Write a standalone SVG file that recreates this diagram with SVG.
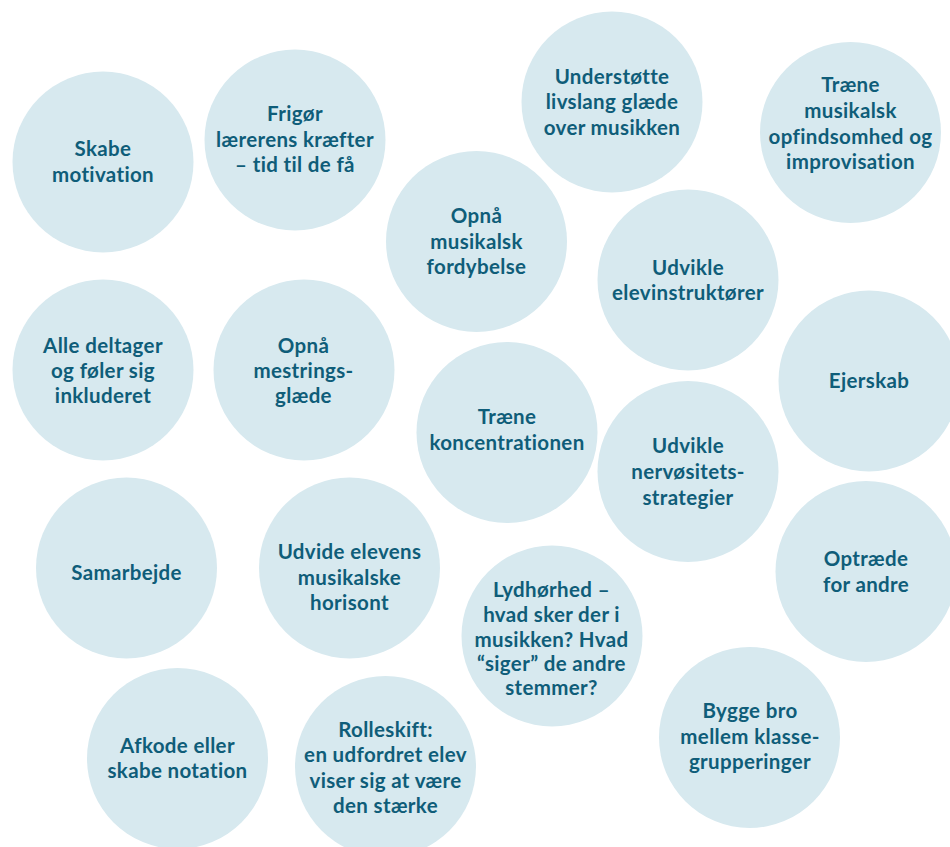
<svg xmlns="http://www.w3.org/2000/svg" width="950" height="847" viewBox="0 0 950 847">
<style>
.c{fill:#d7e9ef}
text{font-family:Lato,"Open Sans","Liberation Sans",sans-serif;font-weight:700;font-size:20.5px;letter-spacing:0.35px;fill:#0f5d79;text-anchor:middle}
</style>
<rect width="950" height="847" fill="#ffffff"/>
<g id="connectors"></g>
<g id="n1"><circle class="c" cx="103" cy="162" r="90.5"/><text x="103"><tspan x="103" y="156">Skabe</tspan><tspan x="103" y="182">motivation</tspan></text></g>
<g id="n2"><circle class="c" cx="295" cy="140" r="90.5"/><text><tspan x="295" y="121">Frigør</tspan><tspan x="295" y="146.7">lærerens kræfter</tspan><tspan x="295" y="171.7">– tid til de få</tspan></text></g>
<g id="n3"><circle class="c" cx="612" cy="102" r="90.5"/><text><tspan x="612" y="84">Understøtte</tspan><tspan x="612" y="109.3">livslang glæde</tspan><tspan x="612" y="135">over musikken</tspan></text></g>
<g id="n4"><circle class="c" cx="850.5" cy="132.5" r="90.5"/><text><tspan x="850.5" y="92.3">Træne</tspan><tspan x="850.5" y="118.3">musikalsk</tspan><tspan x="850.5" y="144">opfindsomhed og</tspan><tspan x="850.5" y="168.5">improvisation</tspan></text></g>
<g id="n5"><circle class="c" cx="476.5" cy="241.5" r="90.5"/><text><tspan x="476.5" y="223">Opnå</tspan><tspan x="476.5" y="248.5">musikalsk</tspan><tspan x="476.5" y="274">fordybelse</tspan></text></g>
<g id="n6"><circle class="c" cx="688" cy="280" r="90.5"/><text><tspan x="688" y="274.5">Udvikle</tspan><tspan x="688" y="300">elevinstruktører</tspan></text></g>
<g id="n7"><circle class="c" cx="103" cy="370" r="90.5"/><text><tspan x="103" y="352.7">Alle deltager</tspan><tspan x="103" y="378.3">og føler sig</tspan><tspan x="103" y="403.3">inkluderet</tspan></text></g>
<g id="n8"><circle class="c" cx="304" cy="370" r="90.5"/><text><tspan x="303.5" y="352.7">Opnå</tspan><tspan x="303.5" y="378.3">mestrings-</tspan><tspan x="303.5" y="403.3">glæde</tspan></text></g>
<g id="n9"><circle class="c" cx="869" cy="381" r="90.5"/><text x="869" y="388.3">Ejerskab</text></g>
<g id="n10"><circle class="c" cx="507" cy="432.5" r="90.5"/><text><tspan x="507" y="424">Træne</tspan><tspan x="507" y="450">koncentrationen</tspan></text></g>
<g id="n11"><circle class="c" cx="688" cy="471.5" r="90.5"/><text><tspan x="688" y="453.3">Udvikle</tspan><tspan x="688" y="479.3">nervøsitets-</tspan><tspan x="688" y="505">strategier</tspan></text></g>
<g id="n12"><circle class="c" cx="126.5" cy="568" r="90.5"/><text x="126.5" y="580">Samarbejde</text></g>
<g id="n13"><circle class="c" cx="349.5" cy="568" r="90.5"/><text><tspan x="349.5" y="559">Udvide elevens</tspan><tspan x="349.5" y="585">musikalske</tspan><tspan x="349.5" y="610">horisont</tspan></text></g>
<g id="n14"><circle class="c" cx="866" cy="571.5" r="90.5"/><text><tspan x="866" y="565.5">Optræde</tspan><tspan x="866" y="591.5">for andre</tspan></text></g>
<g id="n15"><circle class="c" cx="552" cy="636" r="90.5"/><text><tspan x="551.5" y="597.3">Lydhørhed –</tspan><tspan x="551.5" y="621.7">hvad sker der i</tspan><tspan x="551.5" y="646.7">musikken? Hvad</tspan><tspan x="551.5" y="671">“siger” de andre</tspan><tspan x="551.5" y="695">stemmer?</tspan></text></g>
<g id="n16"><circle class="c" cx="749.5" cy="737.5" r="90.5"/><text><tspan x="750" y="718.3">Bygge bro</tspan><tspan x="750" y="744">mellem klasse-</tspan><tspan x="750" y="769.3">grupperinger</tspan></text></g>
<g id="n17"><circle class="c" cx="177.5" cy="758.5" r="90.5"/><text><tspan x="177.5" y="753.3">Afkode eller</tspan><tspan x="177.5" y="778.3">skabe notation</tspan></text></g>
<g id="n18"><circle class="c" cx="385.5" cy="766.5" r="90.5"/><text><tspan x="385.5" y="736.7">Rolleskift:</tspan><tspan x="385.5" y="762.3">en udfordret elev</tspan><tspan x="385.5" y="788.3">viser sig at være</tspan><tspan x="385.5" y="813.3">den stærke</tspan></text></g>
</svg>
